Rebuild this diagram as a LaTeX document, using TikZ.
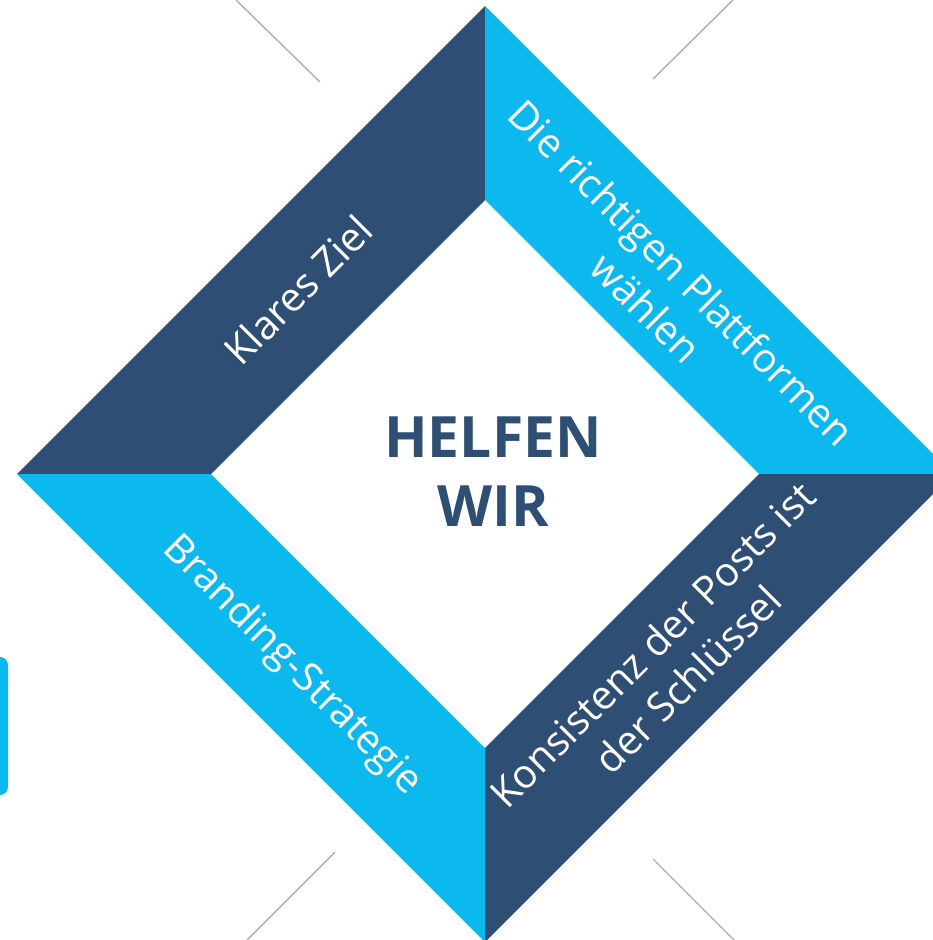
\documentclass[tikz,border=0pt]{standalone}
\usepackage{fontspec}
\setmainfont{Open Sans}
\usepackage{tikz}
\definecolor{helfnavy}{RGB}{47,78,115}
\definecolor{helfblue}{RGB}{11,185,238}
\definecolor{helfgray}{RGB}{175,175,175}

\tikzset{
  band/.style={font=\fontsize{40}{50}\selectfont, text=white, align=center},
  tick/.style={helfgray, line width=1.4pt},
}

\begin{document}
\begin{tikzpicture}[x=1pt, y=-1pt]
  \useasboundingbox (0,0) rectangle (933,940);
  % outer and inner corners of the frame
  \coordinate (ot) at (485,6);
  \coordinate (ol) at (17,474);
  \coordinate (ob) at (485,942);
  \coordinate (or) at (953,474);
  \coordinate (it) at (485,200);
  \coordinate (il) at (211,474);
  \coordinate (ib) at (485,748);
  \coordinate (ir) at (759,474);
  % four bands of the frame
  \fill[helfnavy] (ot) -- (ol) -- (il) -- (it) -- cycle;
  \fill[helfblue] (ot) -- (or) -- (ir) -- (it) -- cycle;
  \fill[helfblue] (ol) -- (ob) -- (ib) -- (il) -- cycle;
  \fill[helfnavy] (or) -- (ob) -- (ib) -- (ir) -- cycle;
  % thin marks at the corners
  \draw[tick] (236,0) -- (320,82);
  \draw[tick] (733,0) -- (653,79);
  \draw[tick] (335,852) -- (245,942);
  \draw[tick] (653,859) -- (736,942);
  % tab at the left edge
  \fill[helfblue, rounded corners=8pt] (-12,657) rectangle (8,795);
  % labels
  \node[band, rotate=45] (ziel) at (298,290) {Klares Ziel};
  \node[band, rotate=-45] (plattform) at (664,290) {Die richtigen Plattformen\\wählen};
  \node[band, rotate=-45] (branding) at (292,666) {Branding-Strategie};
  \node[band, rotate=45] (konsistenz) at (670,662) {Konsistenz der Posts ist\\der Schlüssel};
  \node[font=\fontsize{57}{69}\selectfont\bfseries, text=helfnavy, align=center] (helfen) at (493,472) {HELFEN\\WIR};
\end{tikzpicture}
\end{document}
